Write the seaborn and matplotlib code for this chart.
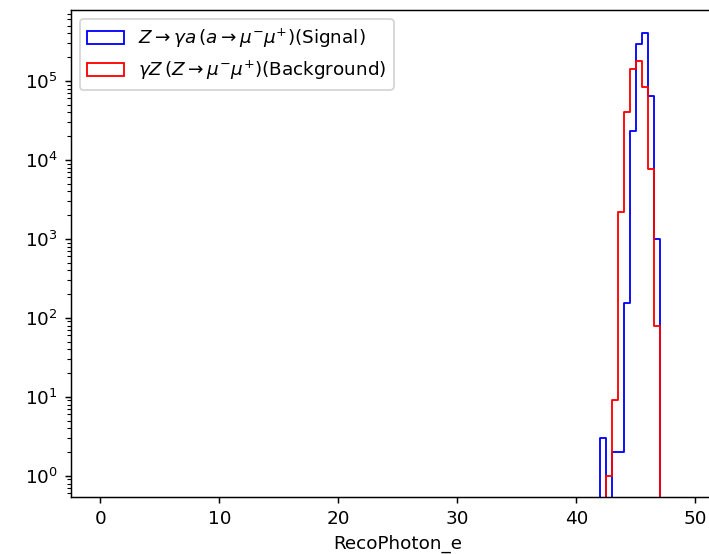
import numpy as np
import pandas as pd
import matplotlib
matplotlib.use("Agg")
import matplotlib.pyplot as plt
from matplotlib.patches import Patch
import seaborn as sns

# Histogram binning: 100 bins of 0.5 GeV from 0 to 50
bin_width = 0.5
bin_range = (0.0, 50.0)

# Non-empty region of the spectrum (left edges of the bins, GeV)
peak_left_edges = [42.0, 42.5, 43.0, 43.5, 44.0, 44.5, 45.0, 45.5, 46.0, 46.5]
signal_counts = [3, 0, 2, 2, 156, 23000, 290000, 410000, 65000, 1000]
background_counts = [0, 1, 9, 2200, 41000, 140000, 180000, 85000, 7600, 80]

signal_label = r"$Z\rightarrow\gamma a\,(a\rightarrow\mu^{-}\mu^{+})$(Signal)"
background_label = r"$\gamma Z\,(Z\rightarrow\mu^{-}\mu^{+})$(Background)"

n_bins = int(round((bin_range[1] - bin_range[0]) / bin_width))
centers = bin_range[0] + bin_width * (np.arange(n_bins) + 0.5)


def full_counts(values):
    counts = np.zeros(n_bins)
    for left, v in zip(peak_left_edges, values):
        counts[int(round((left - bin_range[0]) / bin_width))] = v
    return counts


df_sig = pd.DataFrame({"RecoPhoton_e": centers, "w": full_counts(signal_counts)})
df_bkg = pd.DataFrame({"RecoPhoton_e": centers, "w": full_counts(background_counts)})

DPI = 132
fig = plt.figure(figsize=(709 / DPI, 554 / DPI), dpi=DPI)
ax = fig.add_axes([0.0996, 0.1029, 0.923, 0.879])
ax.set_yscale("log")

sns.histplot(data=df_sig, x="RecoPhoton_e", weights="w", binwidth=bin_width,
             binrange=bin_range, element="step", fill=False, color="blue",
             linewidth=1.0, ax=ax)
sns.histplot(data=df_bkg, x="RecoPhoton_e", weights="w", binwidth=bin_width,
             binrange=bin_range, element="step", fill=False, color="red",
             linewidth=1.0, ax=ax)

ax.set_xlim(-2.5, 52.5)
ax.set_ylim(0.54, 7.9e5)
ax.set_xlabel("RecoPhoton_e")
ax.set_ylabel("")

handles = [Patch(facecolor="none", edgecolor="blue", label=signal_label),
           Patch(facecolor="none", edgecolor="red", label=background_label)]
ax.legend(handles=handles, loc="upper left")

fig.savefig("out.png", dpi=DPI)
